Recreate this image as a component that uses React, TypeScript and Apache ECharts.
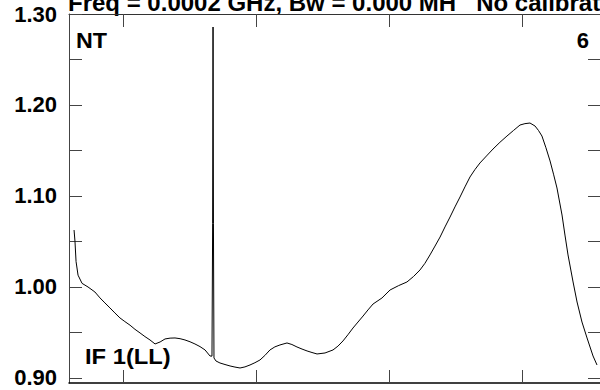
import React, { useEffect, useRef } from "react";
import * as echarts from "echarts";

const titleText = "Freq = 0.0002 GHz, Bw = 0.000 MH   No calibration";
const cornerLeft = "NT";
const cornerRight = "6";
const ifLabel = "IF 1(LL)";

const xMin = 59;
const xMax = 459;
const xTickValues = [100, 200, 300, 400];

const yMin = 0.8945;
const yMax = 1.3;
const yLabelValues = [0.9, 1.0, 1.1, 1.2, 1.3];
const yTickValues = [0.9, 0.95, 1.0, 1.05, 1.1, 1.15, 1.2, 1.25, 1.3];

const channels = [
  62.8, 63.5, 64.3, 65.8, 68.8, 73.3, 78.5, 82.3, 86.0, 89.8, 93.5, 97.3, 101.0,
  104.9, 108.6, 112.4, 116.1, 119.9, 123.7, 127.5, 131.2, 135.0, 138.7, 142.5,
  146.2, 150.0, 153.7, 157.5, 161.3, 165.0, 166.5, 167.0, 167.3, 167.6, 168.0,
  169.5, 172.5, 176.3, 180.1, 183.8, 187.6, 191.3, 195.1, 198.8, 202.6, 206.3,
  210.1, 213.8, 217.6, 222.9, 226.6, 230.4, 234.2, 238.0, 241.7, 245.5, 251.5,
  257.5, 261.2, 265.0, 268.7, 272.5, 276.3, 280.1, 283.8, 287.6, 294.3, 300.4,
  306.8, 313.1, 318.0, 322.9, 326.6, 330.4, 334.2, 338.0, 341.7, 345.5, 349.2,
  353.0, 356.7, 360.5, 364.2, 368.0, 372.9, 377.8, 383.0, 388.3, 393.2, 398.1,
  401.8, 405.6, 409.4, 412.0, 414.6, 417.6, 420.7, 423.3, 425.9, 429.7, 431.9,
  434.2, 438.0, 441.0, 444.7, 448.5, 453.0, 456.0,
];

const amplitude = [
  1.0626, 1.05, 1.028, 1.013, 1.004, 1.0, 0.9945, 0.988, 0.9825, 0.977, 0.9715,
  0.966, 0.962, 0.958, 0.9535, 0.9495, 0.9455, 0.9418, 0.9374, 0.9396, 0.9429,
  0.9438, 0.944, 0.9432, 0.9418, 0.9398, 0.9374, 0.9345, 0.9308, 0.9242, 0.924,
  1.07, 1.2857, 1.07, 0.922, 0.9187, 0.9165, 0.9148, 0.9132, 0.912, 0.911,
  0.9122, 0.9143, 0.9168, 0.9198, 0.9248, 0.9308, 0.9342, 0.9363, 0.9385, 0.9368,
  0.9341, 0.9318, 0.9297, 0.928, 0.9264, 0.9275, 0.9308, 0.935, 0.9407, 0.9475,
  0.9549, 0.9615, 0.9681, 0.9748, 0.9813, 0.9879, 0.9967, 1.0015, 1.0055, 1.0115,
  1.0187, 1.026, 1.0352, 1.045, 1.0549, 1.066, 1.0769, 1.088, 1.0989, 1.11,
  1.1209, 1.129, 1.1363, 1.144, 1.1516, 1.159, 1.1659, 1.172, 1.178, 1.1795,
  1.1802, 1.1769, 1.172, 1.1659, 1.153, 1.1385, 1.124, 1.1088, 1.0791, 1.0571,
  1.0352, 1.0055, 0.9835, 0.9615, 0.944, 0.9242, 0.9143,
];

const FONT = "'Liberation Sans', Arial, sans-serif";

export default function App() {
  const ref = useRef<HTMLDivElement>(null);

  useEffect(() => {
    if (!ref.current) return;
    const chart = echarts.init(ref.current, undefined, { renderer: "svg" });
    const data = channels.map((c, i) => [c, amplitude[i]]);

    const xAxisBase = {
      type: "value",
      min: xMin,
      max: xMax,
      axisLine: { show: true, onZero: false, lineStyle: { color: "#333", width: 1 } },
      axisTick: {
        show: true,
        inside: true,
        length: 13,
        customValues: xTickValues,
        lineStyle: { color: "#444", width: 1 },
      },
      axisLabel: { show: false },
      splitLine: { show: false },
    };
    const yAxisBase = {
      type: "value",
      min: yMin,
      max: yMax,
      axisLine: { show: true, onZero: false, lineStyle: { color: "#444", width: 1 } },
      axisTick: {
        show: true,
        inside: true,
        length: 13,
        customValues: yTickValues,
        lineStyle: { color: "#444", width: 1 },
      },
      splitLine: { show: false },
    };

    chart.setOption({
      animation: false,
      backgroundColor: "#fff",
      grid: { left: 69, top: 14, right: 59, bottom: 7, containLabel: false },
      xAxis: [
        { ...xAxisBase, position: "bottom", axisLine: { show: true, onZero: false, lineStyle: { color: "#000", width: 1.5 } } },
        { ...xAxisBase, position: "top" },
      ],
      yAxis: [
        {
          ...yAxisBase,
          position: "left",
          axisLabel: {
            show: true,
            customValues: yLabelValues,
            formatter: (v: number) => v.toFixed(2),
            fontFamily: FONT,
            fontWeight: "bold",
            fontSize: 22,
            color: "#000",
            margin: 12,
          },
        },
        { ...yAxisBase, position: "right", axisLabel: { show: false } },
      ],
      series: [
        {
          type: "line",
          data,
          symbol: "none",
          lineStyle: { color: "#000", width: 1 },
          clip: true,
        },
      ],
      graphic: [
        {
          type: "text",
          left: 68,
          top: -10,
          style: { text: titleText, fontFamily: FONT, fontWeight: "bold", fontSize: 24, fill: "#000" },
        },
        {
          type: "text",
          x: 76,
          y: 40,
          scaleX: 1.06,
          style: { text: cornerLeft, fontFamily: FONT, fontWeight: "bold", fontSize: 22, fill: "#000", verticalAlign: "middle", align: "left" },
        },
        {
          type: "text",
          x: 589,
          y: 40,
          style: { text: cornerRight, fontFamily: FONT, fontWeight: "bold", fontSize: 22, fill: "#000", verticalAlign: "middle", align: "right" },
        },
        {
          type: "text",
          x: 85,
          y: 356,
          scaleX: 1.08,
          style: { text: ifLabel, fontFamily: FONT, fontWeight: "bold", fontSize: 22, fill: "#000", verticalAlign: "middle", align: "left" },
        },
      ],
    });
    return () => chart.dispose();
  }, []);

  return (
    <div style={{ position: "absolute", left: 0, top: 0, width: 600, height: 390, overflow: "hidden", background: "#fff" }}>
      <div ref={ref} style={{ width: 660, height: 390 }} />
    </div>
  );
}
